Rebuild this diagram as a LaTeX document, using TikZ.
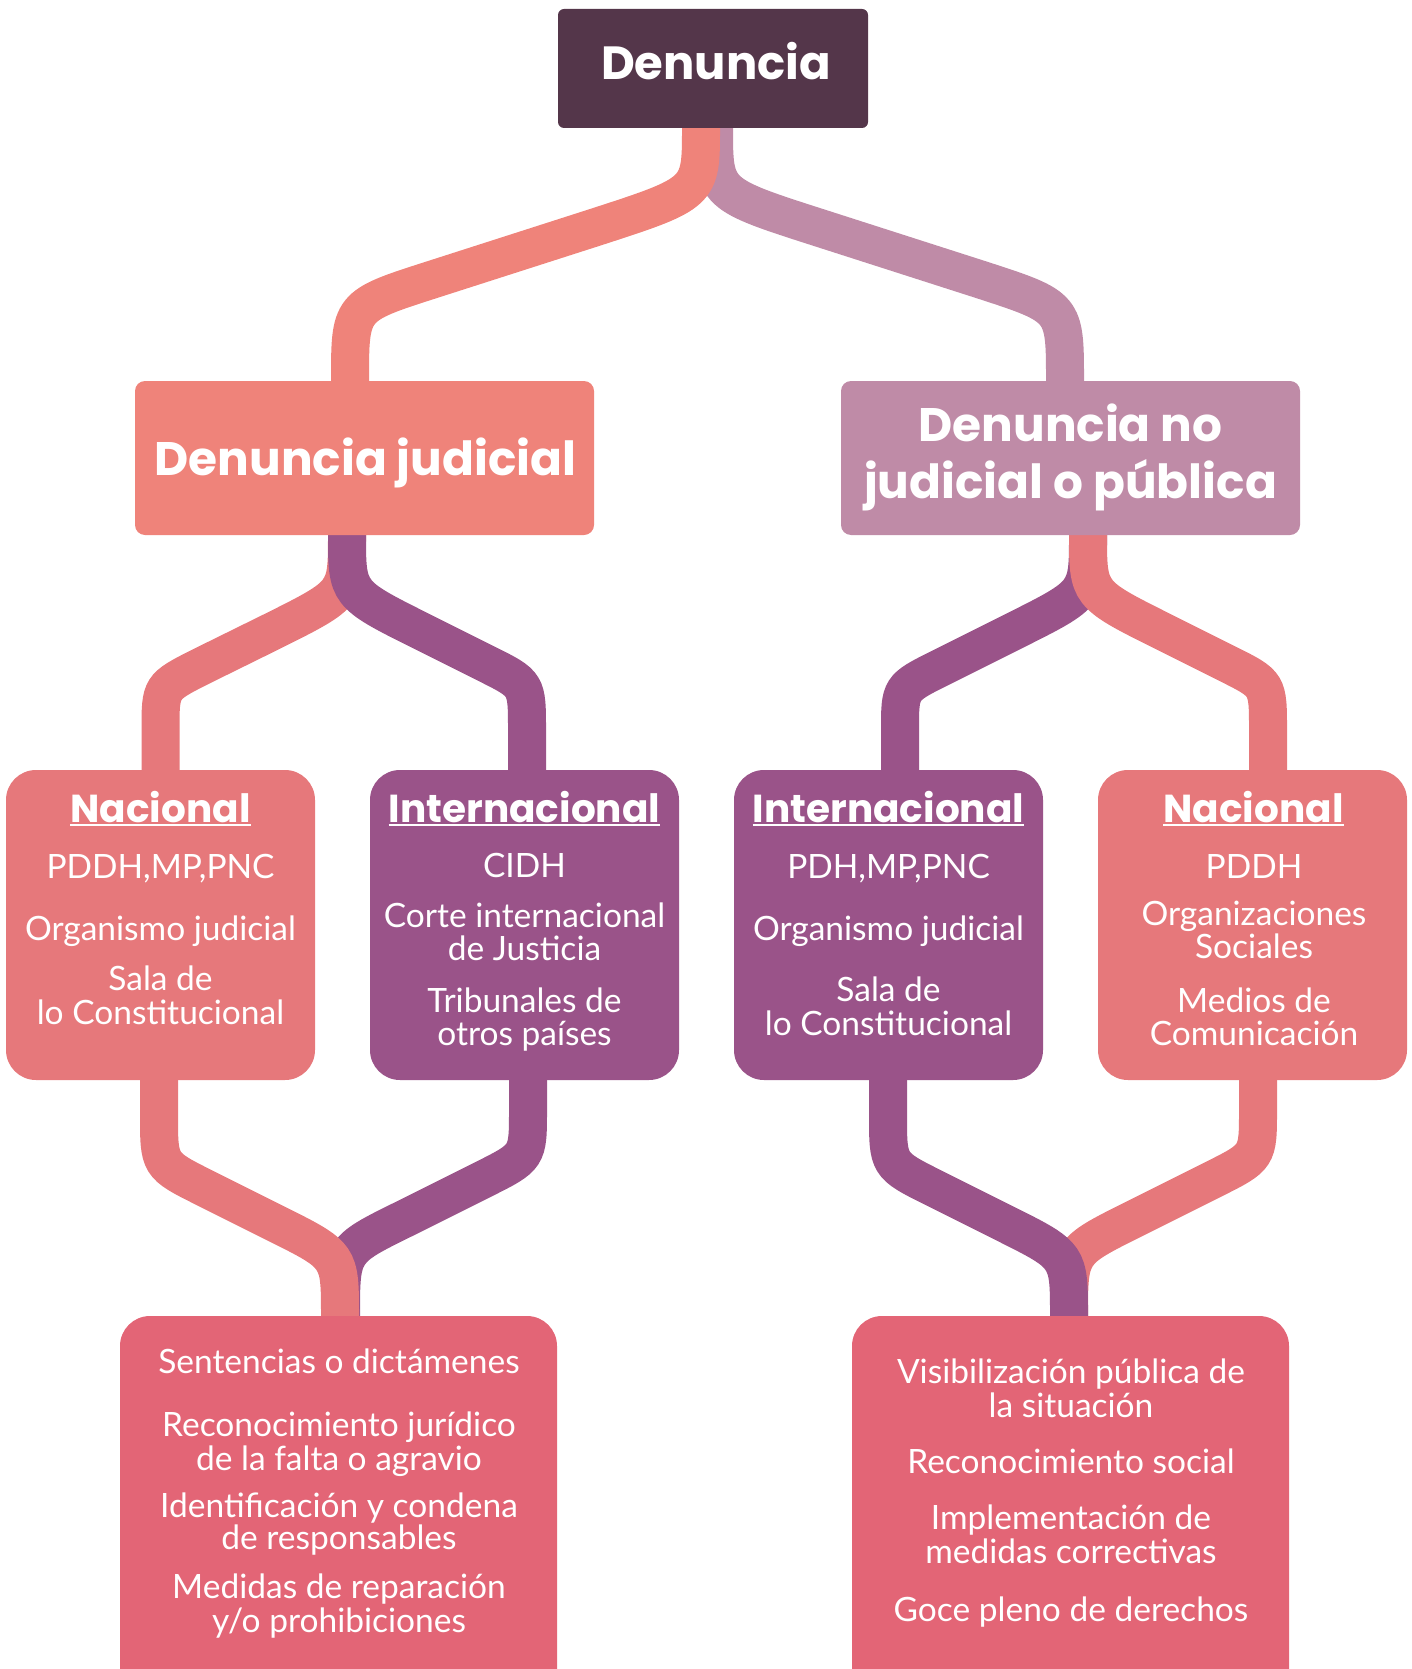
\documentclass[tikz,border=0pt]{standalone}
\usepackage{fontspec}
\setmainfont{Lato}
\newfontfamily\headfont{Poppins}

\definecolor{plum}{HTML}{54364A}
\definecolor{salmon}{HTML}{EF837A}
\definecolor{mauve}{HTML}{BF8BA7}
\definecolor{rosa}{HTML}{E6787B}
\definecolor{morado}{HTML}{9A5389}
\definecolor{coral}{HTML}{E36576}

\pgfdeclarelayer{bg}
\pgfsetlayers{bg,main}

\begin{document}
\begin{tikzpicture}[x=1pt,y=-1pt,
  box/.style={rectangle, inner sep=0pt, draw=none},
  big/.style={box, minimum width=459pt, minimum height=154pt, rounded corners=10pt},
  mid/.style={box, minimum width=309pt, minimum height=310pt, rounded corners=30pt},
  low/.style={box, minimum width=437pt, minimum height=384pt, rounded corners=30pt},
  head/.style={anchor=base, inner sep=0pt, text=white, font=\headfont\bfseries\fontsize{47}{56}\selectfont},
  title/.style={anchor=base, inner sep=0pt, text=white, font=\headfont\bfseries\fontsize{39}{46}\selectfont},
  txt/.style={anchor=base, inner sep=0pt, text=white, font=\fontsize{33.5}{36}\selectfont},
  band/.style={line width=38pt}]
\useasboundingbox (0,0) rectangle (1411,1669);
\clip (0,0) rectangle (1411,1669);

% top
\node[box, fill=plum, minimum width=310pt, minimum height=119pt, rounded corners=6pt] (denuncia) at (713,68.5) {};
\node[head, font=\headfont\bfseries\fontsize{46.5}{56}\selectfont] (denuncia-t) at (716,80) {Denuncia};

% second row
\node[big, fill=salmon] (judicial) at (364.5,458) {};
\node[big, fill=mauve] (nojudicial) at (1070.5,458) {};
\node[head] (judicial-t) at (365.5,475) {Denuncia judicial};
\node[head] (nojudicial-t1) at (1070.5,441) {Denuncia no};
\node[head] (nojudicial-t2) at (1070.5,498) {judicial o pública};

% third row
\node[mid, fill=rosa] (nacL) at (160.5,925) {};
\node[mid, fill=morado] (intL) at (524.5,925) {};
\node[mid, fill=morado] (intR) at (888.5,925) {};
\node[mid, fill=rosa] (nacR) at (1252.5,925) {};

\node[title] (nacL-t) at (160.5,822) {Nacional};
\node[title] (intL-t) at (524.5,822) {Internacional};
\node[title] (intR-t) at (888.5,822) {Internacional};
\node[title] (nacR-t) at (1253.5,822) {Nacional};
\foreach \n in {nacL-t,intL-t,intR-t,nacR-t}
  \draw[white, line width=2.7pt] ([yshift=-3pt]\n.base west) -- ([yshift=-3pt]\n.base east);

\foreach \y/\t [count=\i] in {878/{PDDH,MP,PNC}, 940/Organismo judicial, 990/Sala de, 1024/lo Constitucional}
  \node[txt] (nacL-\i) at (160.5,\y) {\t};
\foreach \y/\t [count=\i] in {877/CIDH, 927/Corte internacional, 960/de Justicia, 1012/Tribunales de, 1045/otros países}
  \node[txt] (intL-\i) at (524.5,\y) {\t};
\foreach \y/\t [count=\i] in {878/{PDH,MP,PNC}, 940/Organismo judicial, 1001/Sala de, 1035/lo Constitucional}
  \node[txt] (intR-\i) at (888.5,\y) {\t};
\foreach \y/\t [count=\i] in {878/PDDH, 925/Organizaciones, 958/Sociales, 1012/Medios de, 1045/Comunicación}
  \node[txt] (nacR-\i) at (1254,\y) {\t};

% results
\node[low, fill=coral] (resL) at (338.5,1508) {};
\node[low, fill=coral] (resR) at (1070.5,1508) {};
\foreach \y/\t [count=\i] in {1373/Sentencias o dictámenes, 1436/Reconocimiento jurídico, 1470/de la falta o agravio, 1517/Identificación y condena, 1549/de responsables, 1598/Medidas de reparación, 1632/{y/o prohibiciones}}
  \node[txt] (resL-\i) at (339,\y) {\t};
\foreach \y/\t [count=\i] in {1383/Visibilización pública de, 1417/la situación, 1473/Reconocimiento social, 1529/Implementación de, 1563/medidas correctivas, 1621/Goce pleno de derechos}
  \node[txt] (resR-\i) at (1071,\y) {\t};

% bands
\begin{pgfonlayer}{bg}
\draw[band, mauve] ([xshift=1pt]denuncia.south) .. controls (714,194) .. (820,228) -- (982,280) .. controls (1065,307) .. ([xshift=-5.5pt]nojudicial.north);
\draw[band, salmon] ([xshift=-12pt]denuncia.south) .. controls (701,193) .. (593,228) -- (431,280) .. controls (350,306) .. ([xshift=-14.5pt]judicial.north);

\draw[band, rosa] ([xshift=-17.5pt]judicial.south) .. controls (347,594) .. (274,630.5) -- (200,667) .. controls (160.5,687) .. (160.5,730) -- (nacL.north);
\draw[band, morado] ([xshift=-17.5pt]judicial.south) .. controls (347,594) .. (420,630.5) -- (487,664) .. controls (527,684) .. (527,730) -- ([xshift=2.5pt]intL.north);

\draw[band, morado] ([xshift=17.5pt]nojudicial.south) .. controls (1088,594) .. (1015,630.5) -- (940,668) .. controls (900,688) .. (900,730) -- ([xshift=11.5pt]intR.north);
\draw[band, rosa] ([xshift=17.5pt]nojudicial.south) .. controls (1088,594) .. (1161,630.5) -- (1228,664) .. controls (1268,684) .. (1268,730) -- ([xshift=15.5pt]nacR.north);

\draw[band, morado] ([xshift=3.5pt]intL.south) -- (528,1110) .. controls (528,1157) .. (483,1179.5) -- (404,1219) .. controls (341,1250) .. ([xshift=2.5pt]resL.north);
\draw[band, rosa] ([xshift=-1.5pt]nacL.south) -- (159,1115) .. controls (159,1165) .. (204,1187.5) -- (277,1224) .. controls (340,1255.5) .. ([xshift=1.5pt]resL.north);

\draw[band, rosa] ([xshift=5.5pt]nacR.south) -- (1258,1110) .. controls (1258,1157) .. (1213,1179.5) -- (1132,1220) .. controls (1069,1251.5) .. ([xshift=-1.5pt]resR.north);
\draw[band, morado] ([xshift=-0.5pt]intR.south) -- (888,1115) .. controls (888,1165) .. (933,1187.5) -- (1006,1224) .. controls (1069,1255.5) .. ([xshift=-1.5pt]resR.north);
\end{pgfonlayer}
\end{tikzpicture}
\end{document}
